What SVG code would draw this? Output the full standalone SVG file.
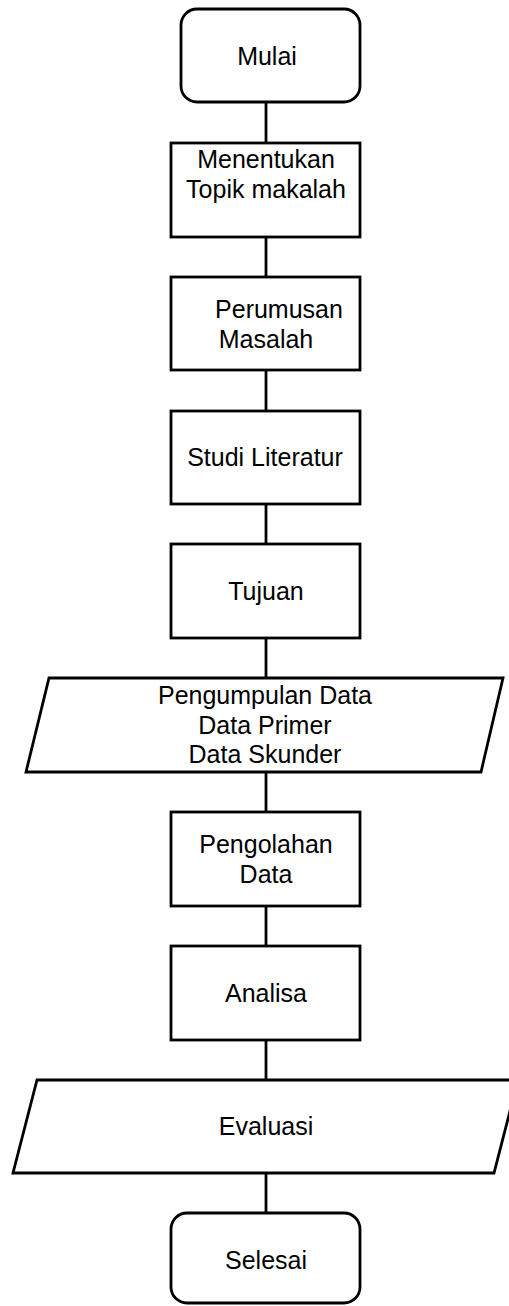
<svg xmlns="http://www.w3.org/2000/svg" width="509" height="1306" viewBox="0 0 509 1306">
  <style>
    .shape { fill: #ffffff; stroke: #000000; stroke-width: 2.8; }
    .link { stroke: #000000; stroke-width: 2.8; fill: none; }
    .label { font-family: "Liberation Sans", Arial, sans-serif; font-size: 25px; fill: #000000; text-anchor: middle; }
  </style>
  <rect width="509" height="1306" fill="#ffffff"/>

  <!-- connectors along the main flow -->
  <g id="connectors">
    <line class="link" x1="266" y1="102" x2="266" y2="143"/>
    <line class="link" x1="266" y1="237" x2="266" y2="277"/>
    <line class="link" x1="266" y1="370" x2="266" y2="411"/>
    <line class="link" x1="266" y1="504" x2="266" y2="544"/>
    <line class="link" x1="266" y1="638" x2="266" y2="678"/>
    <line class="link" x1="266" y1="772" x2="266" y2="812"/>
    <line class="link" x1="266" y1="906" x2="266" y2="946"/>
    <line class="link" x1="266" y1="1040" x2="266" y2="1080"/>
    <line class="link" x1="266" y1="1173" x2="266" y2="1213"/>
  </g>

  <g id="mulai">
    <rect class="shape" x="181" y="9" width="179" height="93" rx="16" ry="16"/>
    <text class="label" x="267" y="65">Mulai</text>
  </g>

  <g id="menentukan-topik">
    <rect class="shape" x="171" y="143" width="189" height="94"/>
    <text class="label" x="266" y="168">Menentukan</text>
    <text class="label" x="266" y="198">Topik makalah</text>
  </g>

  <g id="perumusan-masalah">
    <rect class="shape" x="171" y="277" width="189" height="93"/>
    <text class="label" x="279" y="318">Perumusan</text>
    <text class="label" x="266" y="348">Masalah</text>
  </g>

  <g id="studi-literatur">
    <rect class="shape" x="171" y="411" width="189" height="93"/>
    <text class="label" x="265" y="466">Studi Literatur</text>
  </g>

  <g id="tujuan">
    <rect class="shape" x="171" y="544" width="189" height="94"/>
    <text class="label" x="266" y="600">Tujuan</text>
  </g>

  <g id="pengumpulan-data">
    <polygon class="shape" points="49,678 503,678 481,772 26,772"/>
    <text class="label" x="265" y="704">Pengumpulan Data</text>
    <text class="label" x="265" y="734">Data Primer</text>
    <text class="label" x="265" y="763">Data Skunder</text>
  </g>

  <g id="pengolahan-data">
    <rect class="shape" x="171" y="812" width="189" height="94"/>
    <text class="label" x="266" y="853">Pengolahan</text>
    <text class="label" x="266" y="883">Data</text>
  </g>

  <g id="analisa">
    <rect class="shape" x="171" y="946" width="189" height="94"/>
    <text class="label" x="266" y="1002">Analisa</text>
  </g>

  <g id="evaluasi">
    <polygon class="shape" points="37,1080 518,1080 494,1173 13,1173"/>
    <text class="label" x="266" y="1135">Evaluasi</text>
  </g>

  <g id="selesai">
    <rect class="shape" x="171" y="1213" width="189" height="90" rx="16" ry="16"/>
    <text class="label" x="266" y="1269">Selesai</text>
  </g>
</svg>
